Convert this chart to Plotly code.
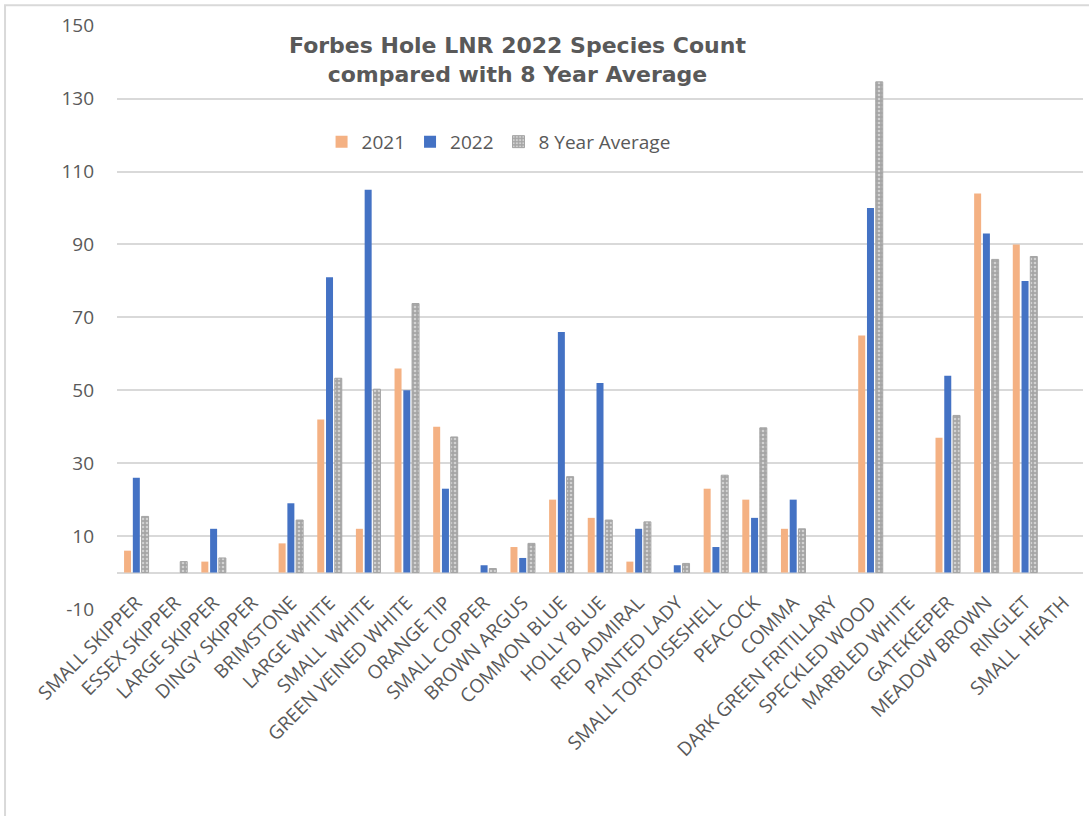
import plotly.graph_objects as go

species = [
    "SMALL SKIPPER", "ESSEX SKIPPER", "LARGE SKIPPER", "DINGY SKIPPER", "BRIMSTONE",
    "LARGE WHITE", "SMALL  WHITE", "GREEN VEINED WHITE", "ORANGE TIP", "SMALL COPPER",
    "BROWN ARGUS", "COMMON BLUE", "HOLLY BLUE", "RED ADMIRAL", "PAINTED LADY",
    "SMALL TORTOISESHELL", "PEACOCK", "COMMA", "DARK GREEN FRITILLARY", "SPECKLED WOOD",
    "MARBLED WHITE", "GATEKEEPER", "MEADOW BROWN", "RINGLET", "SMALL  HEATH",
]
count_2021 = [6, None, 3, None, 8, 42, 12, 56, 40, None, 7, 20, 15, 3, None,
              23, 20, 12, None, 65, None, 37, 104, 90, None]
count_2022 = [26, None, 12, None, 19, 81, 105, 50, 23, 2, 4, 66, 52, 12, 2,
              7, 15, 20, None, 100, None, 54, 93, 80, None]
avg_8yr = [15.4, 3.0, 4.0, None, 14.4, 53.3, 50.3, 73.8, 37.2, 1.1, 8.0, 26.3, 14.4, 13.9, 2.5,
           26.7, 39.7, 12.0, None, 134.6, None, 43.1, 85.9, 86.7, None]
y_ticks = [-10, 10, 30, 50, 70, 90, 110, 130, 150]
y_tick_text = ["-10", "10", "30", "50", "70", "90", "110", "130", "150"]

GREY_TEXT = "#595959"
GRID = "#d9d9d9"
FONT = "Open Sans"

fig = go.Figure()
fig.add_trace(go.Bar(name="2021", x=species, y=count_2021,
                     marker=dict(color="#F4B183", line=dict(width=0))))
fig.add_trace(go.Bar(name="2022", x=species, y=count_2022,
                     marker=dict(color="#4472C4", line=dict(width=0))))
fig.add_trace(go.Bar(name="8 Year Average", x=species, y=avg_8yr,
                     marker=dict(color="#A5A5A5",
                                 line=dict(color="#A5A5A5", width=1),
                                 pattern=dict(shape=".", fgcolor="white", bgcolor="#A5A5A5",
                                              size=4, solidity=0.35, fillmode="overlay"))))

fig.update_layout(
    width=1089, height=816,
    margin=dict(l=117, r=6, t=25, b=207),
    paper_bgcolor="white", plot_bgcolor="white",
    barmode="group", bargap=0.32, bargroupgap=0.2,
    font=dict(family=FONT, color=GREY_TEXT),
    showlegend=True,
    legend=dict(orientation="h", x=0.395, y=0.80, xanchor="center", yanchor="middle",
                font=dict(size=19, color=GREY_TEXT), bgcolor="rgba(0,0,0,0)",
                itemwidth=30, tracegroupgap=0),
    xaxis=dict(tickangle=-45, tickfont=dict(size=19, color=GREY_TEXT),
               showgrid=False, showline=False, ticks="", ticklabelstandoff=-22),
    yaxis=dict(range=[-10, 150.2], tickvals=y_ticks, ticktext=y_tick_text,
               showgrid=True, gridcolor=GRID,
               gridwidth=2, zeroline=True, zerolinecolor=GRID, zerolinewidth=2,
               showline=False, ticks="", ticklabelstandoff=22,
               tickfont=dict(size=19, color=GREY_TEXT)),
    annotations=[dict(
        text="<b>Forbes Hole LNR 2022 Species Count<br>compared with 8 Year Average</b>",
        xref="paper", yref="paper", x=0.415, y=0.94, xanchor="center", yanchor="middle",
        showarrow=False, font=dict(family="DejaVu Sans", size=22, color=GREY_TEXT),
    )],
    shapes=[dict(type="rect", xref="paper", yref="paper",
                 x0=-0.1159, x1=1.05, y0=-0.5, y1=1.034,
                 line=dict(color=GRID, width=2), layer="below")],
)

fig.write_html("out.html")
